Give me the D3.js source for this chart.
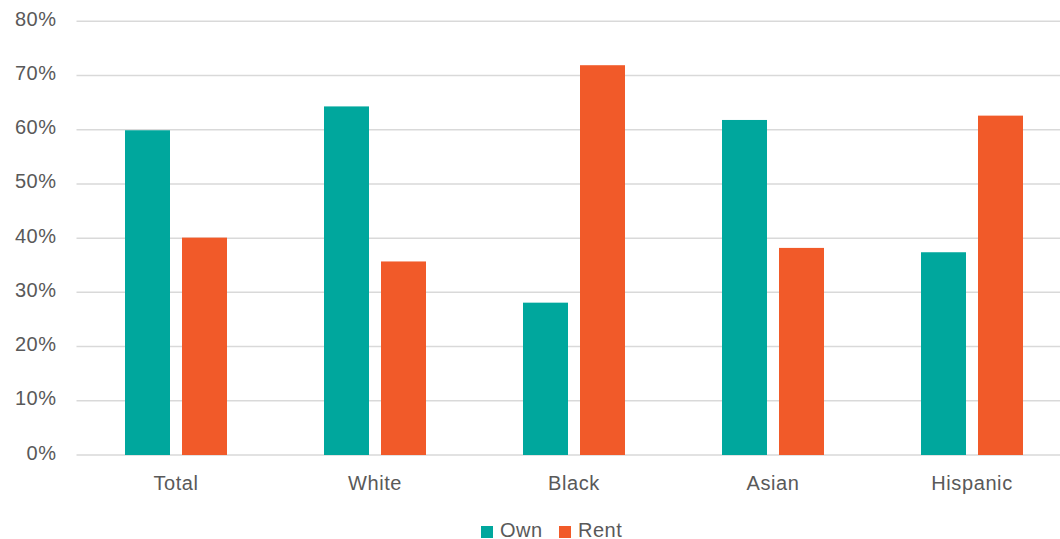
<!DOCTYPE html>
<html>
<head>
<meta charset="utf-8">
<script src="https://cdn.jsdelivr.net/npm/d3@7"></script>
<style>
  html, body { margin: 0; padding: 0; background: #fff; }
  svg { display: block; font-family: "Liberation Sans", Arial, sans-serif; }
</style>
</head>
<body>
<svg id="chart" width="1060" height="539"></svg>
<script>
const categories = ["Total", "White", "Black", "Asian", "Hispanic"];
const seriesNames = ["Own", "Rent"];
const ownValues = [59.9, 64.3, 28.1, 61.8, 37.4];
const rentValues = [40.1, 35.7, 71.9, 38.2, 62.6];
const yTicks = [0, 10, 20, 30, 40, 50, 60, 70, 80];
const colors = ["#00A79D", "#F15A29"];

const svg = d3.select("#chart");
const x0 = 76.5, x1 = 1071.5, yTop = 21.3, yBottom = 455;
const textColor = "#595959";

const x = d3.scaleBand().domain(categories).range([x0, x1]).paddingInner(0).paddingOuter(0);
const y = d3.scaleLinear().domain([0, 80]).range([yBottom, yTop]);

// gridlines
svg.append("g").selectAll("line").data(yTicks).join("line")
  .attr("x1", x0).attr("x2", 1060)
  .attr("y1", d => y(d)).attr("y2", d => y(d))
  .attr("stroke", "#d9d9d9").attr("stroke-width", 1.5);

// y axis labels
const yAxis = d3.axisLeft(y).tickValues(yTicks).tickFormat(d => d + "%").tickSize(0).tickPadding(0);
const yg = svg.append("g").attr("transform", `translate(56.5,0)`).call(yAxis);
yg.select(".domain").remove();
yg.selectAll("text").attr("fill", textColor).style("font-size", "20px")
  .style("letter-spacing", "0.5px").attr("dy", "4px");

// x axis labels
const xAxis = d3.axisBottom(x).tickSize(0).tickPadding(0);
const xg = svg.append("g").attr("transform", `translate(0,${yBottom})`).call(xAxis);
xg.select(".domain").remove();
xg.selectAll("text").attr("fill", textColor).style("font-size", "20px")
  .style("letter-spacing", "0.6px").attr("y", 35).attr("dy", "0");

// bars
const barW = 45, gap = 12;
const xs = d3.scaleOrdinal().domain(seriesNames).range([-(barW + gap / 2), gap / 2]);
const seriesData = [ownValues, rentValues];
seriesNames.forEach((s, si) => {
  svg.append("g").selectAll("rect").data(categories).join("rect")
    .attr("x", c => x(c) + x.bandwidth() / 2 + xs(s))
    .attr("width", barW)
    .attr("y", (c, i) => y(seriesData[si][i]))
    .attr("height", (c, i) => yBottom - y(seriesData[si][i]))
    .attr("fill", colors[si]);
});

// legend
const legendX = [481, 559];
const lg = svg.append("g");
seriesNames.forEach((name, i) => {
  lg.append("rect").attr("x", legendX[i]).attr("y", 526).attr("width", 12).attr("height", 12).attr("fill", colors[i]);
  lg.append("text").attr("x", legendX[i] + 19).attr("y", 536.5).text(name)
    .attr("fill", textColor).style("font-size", "20px").style("letter-spacing", "0.5px");
});
</script>
</body>
</html>
